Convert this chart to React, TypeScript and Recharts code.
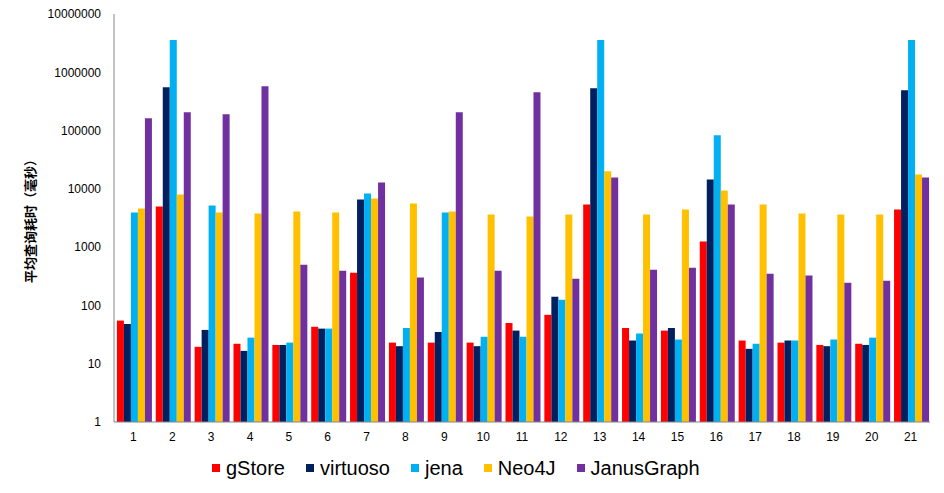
import React from 'react';
import { BarChart, Bar, XAxis, YAxis, Legend } from 'recharts';

const queries = ['1', '2', '3', '4', '5', '6', '7', '8', '9', '10', '11', '12', '13', '14', '15', '16', '17', '18', '19', '20', '21'];

const gStore = [55, 4990, 19.5, 22, 21, 43, 365, 23, 23, 23, 50, 69, 5400, 41, 37, 1250, 25, 23, 21, 22, 4430];
const virtuoso = [48, 556000, 38, 16.6, 21, 40, 6580, 20, 35, 20, 37, 141, 534000, 25, 41, 14500, 18, 25, 20, 21, 493000];
const jena = [3930, 3575000, 5190, 28, 23, 40, 8350, 41, 3930, 29, 29, 125, 3575000, 33, 26, 83000, 22, 25, 26, 28, 3575000];
const neo4j = [4610, 8020, 3930, 3780, 4090, 3930, 6850, 5620, 4090, 3630, 3360, 3630, 19950, 3630, 4430, 9400, 5400, 3780, 3630, 3630, 17700];
const janusGraph = [162600, 206000, 190600, 578000, 500, 395, 12900, 300, 206000, 395, 456000, 288, 15700, 411, 445, 5400, 351, 325, 246, 266, 15700];

const yTicks = [1, 10, 100, 1000, 10000, 100000, 1000000, 10000000];

const series = [
  { key: 'gStore', color: '#FF0000' },
  { key: 'virtuoso', color: '#002060' },
  { key: 'jena', color: '#00B0F0' },
  { key: 'Neo4J', color: '#FFC000' },
  { key: 'JanusGraph', color: '#7030A0' },
];

const data = queries.map((q, i) => ({
  name: q,
  gStore: gStore[i],
  virtuoso: virtuoso[i],
  jena: jena[i],
  Neo4J: neo4j[i],
  JanusGraph: janusGraph[i],
}));

const font = 'Arial, "Liberation Sans", sans-serif';

function LegendContent() {
  return (
    <div style={{ display: 'flex', alignItems: 'center', fontFamily: font, fontSize: 20, color: '#000', lineHeight: '24px' }}>
      {series.map((s) => (
        <div key={s.key} style={{ display: 'flex', alignItems: 'center', marginRight: 21 }}>
          <span style={{ display: 'inline-block', width: 8, height: 8, background: s.color, marginRight: 6 }} />
          <span>{s.key}</span>
        </div>
      ))}
    </div>
  );
}

export default function App() {
  return (
    <div style={{ position: 'absolute', left: 0, top: 0, width: 944, height: 493, background: '#fff' }}>
      <BarChart
        width={944}
        height={493}
        data={data}
        margin={{ top: 14, right: 14, left: 0, bottom: 17 }}
        barCategoryGap="7.5%"
        barGap={0}
      >
        <XAxis
          dataKey="name"
          height={30}
          tickLine={false}
          tickSize={0}
          tickMargin={10}
          axisLine={{ stroke: '#868686', strokeWidth: 1 }}
          tick={{ fill: '#000', fontSize: 12, fontFamily: font }}
          interval={0}
        />
        <YAxis
          scale="log"
          domain={[1, 10000000]}
          ticks={yTicks}
          allowDataOverflow
          width={114}
          tickLine={false}
          tickSize={0}
          tickMargin={13}
          axisLine={{ stroke: '#868686', strokeWidth: 1 }}
          tick={{ fill: '#000', fontSize: 12, fontFamily: font }}
          label={{
            value: '平均查询耗时（毫秒）',
            angle: -90,
            position: 'center',
            dx: -27,
            style: { fill: '#000', fontSize: 13, fontWeight: 'bold', fontFamily: '"Noto Sans CJK SC", sans-serif' },
          }}
        />
        <Legend
          verticalAlign="bottom"
          align="left"
          height={42}
          content={<LegendContent />}
          wrapperStyle={{ left: 212, top: 456, height: 24 }}
        />
        {series.map((s) => (
          <Bar key={s.key} dataKey={s.key} fill={s.color} isAnimationActive={false} />
        ))}
      </BarChart>
    </div>
  );
}
